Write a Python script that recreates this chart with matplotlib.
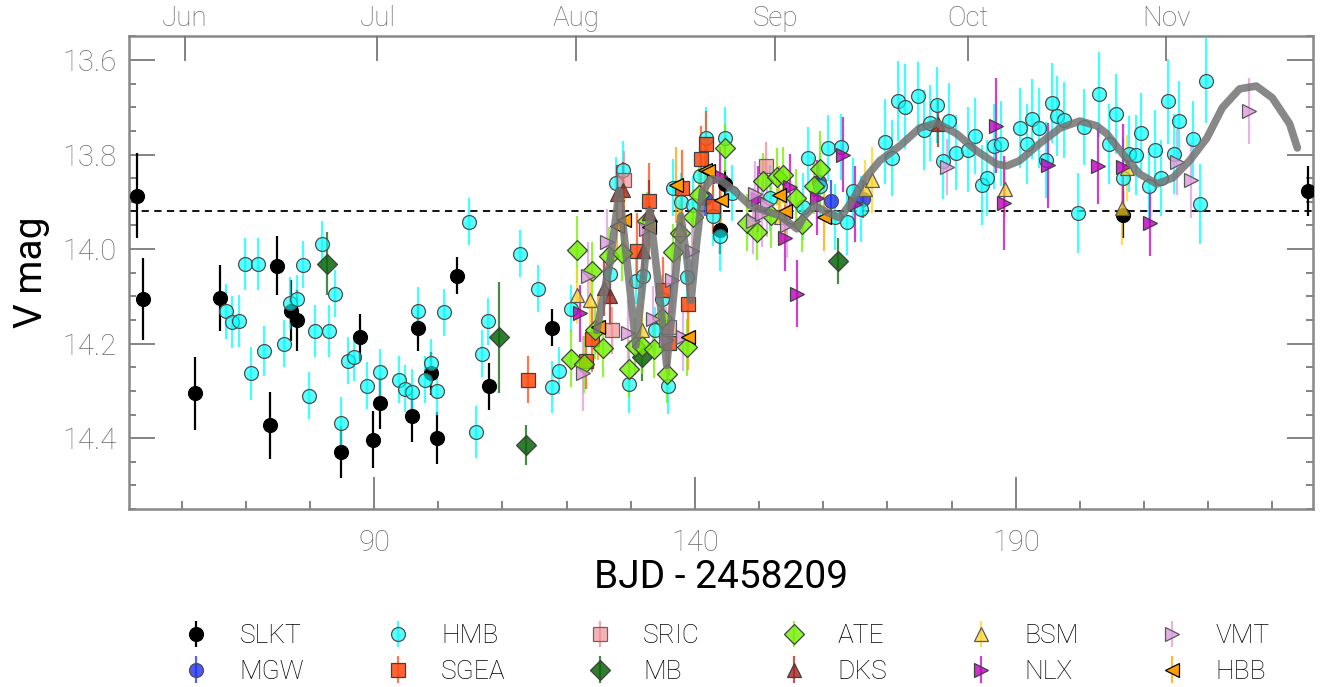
import matplotlib
matplotlib.use("Agg")
import matplotlib.pyplot as plt
from matplotlib.colors import to_rgba

plt.rcParams['font.family'] = ['Roboto', 'Liberation Sans', 'DejaVu Sans']
plt.rcParams['font.weight'] = 'light'

# ---- data (BJD - 2458209, V mag, error) ----
slkt_x = [53.1, 53.9, 62.0, 65.9, 73.8, 74.9, 77.0, 77.9, 84.9, 87.8, 89.8, 90.9,
          95.9, 96.9, 98.9, 99.8, 102.9, 107.9, 117.7, 143.9, 144.7, 206.7, 235.6]
slkt_y = [13.887, 14.105, 14.305, 14.103, 14.373, 14.035, 14.130, 14.151, 14.430, 14.187,
          14.403, 14.325, 14.354, 14.166, 14.263, 14.400, 14.056, 14.290, 14.166, 13.960,
          13.862, 13.927, 13.877]
slkt_e = [0.09, 0.087, 0.077, 0.07, 0.071, 0.063, 0.065, 0.065, 0.055, 0.05, 0.06, 0.055,
          0.055, 0.05, 0.045, 0.055, 0.04, 0.05, 0.04, 0.05, 0.03, 0.05, 0.053]

mgw_x = [141.6, 159.3, 161.2, 166.2]
mgw_y = [13.891, 13.858, 13.898, 13.894]
mgw_e = [0.04, 0.04, 0.045, 0.04]

hmb_x = [66.9, 67.9, 69.0, 69.9, 70.8, 71.9, 72.9, 76.0, 76.9, 78.0, 78.9, 79.9, 80.8, 81.9,
         83.0, 83.9, 84.9, 86.0, 86.9, 88.9, 90.9, 93.9, 94.8, 95.9, 96.9, 97.9, 98.9, 99.8,
         100.9, 104.8, 105.9, 106.8, 107.8, 112.7, 115.5, 117.7, 118.8, 120.7, 126.8, 127.7,
         128.8, 129.7, 130.8, 131.9, 133.8, 134.9, 135.8, 136.6, 137.8, 138.8, 139.7, 140.8,
         141.7, 142.8, 143.9, 144.7, 145.8, 151.7, 156.8, 157.6, 159.5, 160.7, 161.8, 162.7,
         163.7, 164.6, 165.9, 169.6, 170.7, 171.6, 172.7, 174.7, 175.7, 176.6, 177.7, 178.6,
         179.6, 180.7, 182.5, 183.6, 184.7, 185.6, 186.6, 187.7, 190.6, 191.7, 192.6, 193.6,
         194.7, 195.6, 196.5, 197.6, 199.7, 200.6, 203.0, 204.6, 205.7, 206.7, 207.6, 208.7,
         209.6, 210.7, 211.7, 212.6, 213.7, 214.6, 215.5, 217.6, 218.7, 219.6]
hmb_y = [14.132, 14.155, 14.153, 14.031, 14.263, 14.031, 14.215, 14.200, 14.113, 14.105,
         14.033, 14.310, 14.174, 13.989, 14.174, 14.094, 14.367, 14.236, 14.229, 14.289,
         14.261, 14.276, 14.295, 14.303, 14.130, 14.276, 14.240, 14.301, 14.134, 13.942,
         14.386, 14.221, 14.153, 14.010, 14.084, 14.291, 14.257, 14.126, 14.052, 13.860,
         13.832, 14.286, 14.067, 14.056, 14.172, 14.105, 14.289, 13.870, 13.900, 14.060,
         13.906, 13.845, 13.765, 13.929, 13.972, 13.765, 13.881, 13.891, 13.910, 13.807,
         13.866, 13.786, 13.932, 13.784, 13.942, 13.877, 13.915, 13.773, 13.807, 13.687,
         13.699, 13.676, 13.748, 13.733, 13.695, 13.813, 13.729, 13.796, 13.790, 13.761,
         13.864, 13.849, 13.782, 13.777, 13.744, 13.777, 13.725, 13.744, 13.811, 13.691,
         13.718, 13.727, 13.923, 13.742, 13.672, 13.777, 13.714, 13.849, 13.799, 13.801,
         13.754, 13.866, 13.790, 13.849, 13.687, 13.799, 13.729, 13.767, 13.904, 13.644]
hmb_e = [0.058, 0.055, 0.055, 0.055, 0.056, 0.055, 0.053, 0.05, 0.055, 0.05,
         0.05, 0.049, 0.055, 0.049, 0.055, 0.05, 0.055, 0.05, 0.05, 0.05,
         0.05, 0.05, 0.05, 0.05, 0.05, 0.05, 0.05, 0.05, 0.05, 0.05,
         0.055, 0.05, 0.05, 0.05, 0.05, 0.055, 0.05, 0.05, 0.05, 0.055,
         0.06, 0.06, 0.05, 0.05, 0.05, 0.05, 0.06, 0.06, 0.06, 0.06,
         0.06, 0.06, 0.065, 0.065, 0.075, 0.065, 0.06, 0.07, 0.07, 0.065,
         0.07, 0.07, 0.07, 0.07, 0.07, 0.07, 0.07, 0.09, 0.08, 0.085,
         0.09, 0.072, 0.085, 0.08, 0.08, 0.08, 0.08, 0.08, 0.09, 0.08,
         0.085, 0.08, 0.09, 0.09, 0.085, 0.085, 0.085, 0.085, 0.08, 0.085,
         0.085, 0.08, 0.085, 0.08, 0.09, 0.085, 0.085, 0.085, 0.08, 0.085,
         0.085, 0.08, 0.085, 0.08, 0.09, 0.085, 0.085, 0.08, 0.085, 0.09]

sgea_x = [114.0, 123.0, 124.0, 131.0, 132.8, 135.0, 136.0, 138.0, 138.9, 140.9, 141.7, 142.8]
sgea_y = [14.276, 14.236, 14.191, 14.003, 13.898, 14.086, 14.198, 13.870, 14.117, 13.809,
          13.777, 13.908]
sgea_e = [0.05, 0.06, 0.07, 0.08, 0.08, 0.07, 0.07, 0.08, 0.07, 0.07, 0.07, 0.06]

sric_x = [127.1, 128.9, 136.0, 151.1]
sric_y = [14.172, 13.853, 14.164, 13.824]
sric_e = [0.05, 0.06, 0.06, 0.05]

mb_x = [82.7, 109.5, 113.7, 131.7, 162.3]
mb_y = [14.031, 14.187, 14.415, 14.229, 14.025]
mb_e = [0.067, 0.118, 0.042, 0.05, 0.048]

ate_x = [120.7, 121.6, 122.7, 124.0, 124.4, 125.7, 126.6, 128.6, 129.7, 130.7, 131.7, 132.5,
         133.6, 134.9, 135.6, 136.6, 137.7, 138.8, 139.7, 140.6, 144.7, 148.1, 149.7, 150.6,
         151.8, 152.8, 153.7, 155.7, 156.7, 158.5, 159.5]
ate_y = [14.232, 14.001, 14.244, 14.046, 14.172, 14.210, 14.014, 14.008, 14.253, 14.206,
         14.204, 13.940, 14.212, 14.145, 14.265, 14.006, 13.965, 14.208, 13.932, 13.885,
         13.786, 13.944, 13.963, 13.856, 13.927, 13.847, 13.843, 13.891, 13.946, 13.866,
         13.830]
ate_e = [0.06, 0.07, 0.06, 0.06, 0.06, 0.06, 0.06, 0.06, 0.06, 0.06, 0.06, 0.06,
         0.06, 0.06, 0.06, 0.06, 0.06, 0.06, 0.06, 0.06, 0.05, 0.06, 0.06, 0.06,
         0.07, 0.06, 0.06, 0.06, 0.06, 0.06, 0.08]

dks_x = [125.8, 126.8, 127.9, 128.8, 131.9, 132.8, 177.9]
dks_y = [14.082, 14.100, 13.883, 13.875, 14.003, 13.923, 13.735]
dks_e = [0.06, 0.06, 0.06, 0.06, 0.07, 0.07, 0.05]

bsm_x = [121.6, 123.6, 131.7, 137.5, 153.4, 166.5, 167.6, 188.4, 206.5, 207.3]
bsm_y = [14.098, 14.107, 14.172, 13.957, 13.933, 13.872, 13.853, 13.872, 13.912, 13.828]
bsm_e = [0.06, 0.06, 0.06, 0.06, 0.06, 0.06, 0.07, 0.06, 0.08, 0.07]

nlx_x = [122.1, 143.9, 149.8, 154.0, 154.8, 155.9, 159.0, 163.1, 164.9, 187.0, 188.1, 195.0,
         202.9, 206.8, 211.0]
nlx_y = [14.136, 13.845, 13.894, 13.977, 13.868, 14.094, 13.891, 13.800, 13.904, 13.739,
         13.902, 13.823, 13.824, 13.826, 13.944]
nlx_e = [0.06, 0.06, 0.07, 0.07, 0.07, 0.07, 0.08, 0.08, 0.08, 0.1, 0.1, 0.09,
         0.08, 0.09, 0.07]

vmt_x = [122.6, 123.3, 126.3, 129.6, 132.4, 133.5, 135.5, 136.4, 138.1, 139.5, 149.0, 149.3,
         150.4, 151.2, 154.3, 179.3, 215.1, 217.3, 226.3]
vmt_y = [14.263, 14.056, 13.986, 14.177, 13.957, 14.147, 14.193, 14.065, 14.187, 14.003,
         13.940, 13.883, 13.925, 13.904, 13.948, 13.826, 13.816, 13.854, 13.708]
vmt_e = [0.08, 0.07, 0.07, 0.07, 0.07, 0.07, 0.07, 0.07, 0.07, 0.07, 0.07, 0.07,
         0.07, 0.07, 0.07, 0.06, 0.07, 0.08, 0.07]

hbb_x = [124.9, 127.9, 128.9, 132.8, 137.0, 138.9, 141.6, 142.0, 144.0, 153.1, 154.0, 160.1]
hbb_y = [14.164, 13.951, 13.938, 13.953, 13.864, 14.185, 13.833, 13.834, 13.896, 13.885,
         13.919, 13.933]
hbb_e = [0.07, 0.07, 0.07, 0.07, 0.08, 0.07, 0.07, 0.07, 0.06, 0.06, 0.06, 0.07]

# model curve
model_x = [124.7, 126.8, 128.2, 129.4, 130.8, 131.9, 133.0, 134.4, 135.6, 136.9, 137.8, 138.8,
           139.4, 140.3, 141.2, 142.6, 144.2, 146.2, 148.6, 150.9, 153.2, 155.9, 157.1, 158.7,
           160.7, 162.6, 164.5, 166.5, 168.8, 171.9, 175.0, 177.7, 180.8, 183.9, 187.0, 188.6,
           190.6, 193.7, 196.9, 200.0, 202.6, 204.2, 206.7, 209.3, 212.0, 214.5, 217.1, 219.8,
           222.2, 224.9, 227.5, 230.0, 232.7, 233.9]
model_y = [14.172, 14.025, 13.877, 14.025, 14.204, 14.067, 13.919, 14.088, 14.246, 14.067,
           13.930, 14.025, 14.109, 13.982, 13.877, 13.851, 13.856, 13.877, 13.908, 13.919,
           13.929, 13.957, 13.929, 13.908, 13.923, 13.934, 13.898, 13.851, 13.813, 13.782,
           13.744, 13.733, 13.756, 13.792, 13.820, 13.824, 13.813, 13.777, 13.744, 13.729,
           13.739, 13.756, 13.799, 13.841, 13.862, 13.849, 13.813, 13.765, 13.701, 13.661,
           13.655, 13.680, 13.735, 13.786]

mean_mag = 13.92
month_pos = [60.5, 90.5, 121.5, 152.5, 182.5, 213.5]
month_lab = ['Jun', 'Jul', 'Aug', 'Sep', 'Oct', 'Nov']

series = [
    ('SLKT', slkt_x, slkt_y, slkt_e, 'o', 'black', 1.0, 'black'),
    ('MGW', mgw_x, mgw_y, mgw_e, 'o', '#1f2ff0', 0.8, '0.3'),
    ('HMB', hmb_x, hmb_y, hmb_e, 'o', '#00ffff', 0.65, '0.3'),
    ('SGEA', sgea_x, sgea_y, sgea_e, 's', '#ff4a10', 0.85, '0.25'),
    ('SRIC', sric_x, sric_y, sric_e, 's', '#f08a8e', 0.65, '0.4'),
    ('MB', mb_x, mb_y, mb_e, 'D', '#0b650b', 0.85, '0.25'),
    ('ATE', ate_x, ate_y, ate_e, 'D', '#72f000', 0.8, '0.25'),
    ('DKS', dks_x, dks_y, dks_e, '^', '#a3221c', 0.8, '0.25'),
    ('BSM', bsm_x, bsm_y, bsm_e, '^', '#ffd21f', 0.7, '0.35'),
    ('NLX', nlx_x, nlx_y, nlx_e, '>', '#c000c0', 0.8, '0.25'),
    ('VMT', vmt_x, vmt_y, vmt_e, '>', '#dd9add', 0.8, '0.35'),
    ('HBB', hbb_x, hbb_y, hbb_e, '<', '#ffa000', 1.0, 'black'),
]

fig = plt.figure(figsize=(13.24, 6.87), dpi=100)
ax = fig.add_axes([0.0975, 0.259, 0.894, 0.688])

gray = '#6e6e6e'
for name, x, y, e, mk, c, a, ec in series:
    ax.errorbar(x, y, yerr=e, fmt=mk, ms=10, mfc=to_rgba(c, a), mec=ec, mew=0.9,
                ecolor=to_rgba(c, 0.75 if c != 'black' else 1.0), elinewidth=1.6,
                capsize=0, label=name, zorder=3)

ax.plot(model_x, model_y, color='0.45', lw=5.5, alpha=0.85, solid_capstyle='round',
        solid_joinstyle='round', zorder=4)
ax.axhline(mean_mag, color='black', ls=(0, (4, 3)), lw=1.3, zorder=2)

ax.set_xlim(51.8, 236.3)
ax.set_ylim(14.55, 13.55)
ax.set_xticks([90, 140, 190])
ax.set_xticks(range(60, 237, 10), minor=True)
ax.set_yticks([13.6, 13.8, 14.0, 14.2, 14.4])
ax.set_yticks([13.55 + 0.05 * i for i in range(21)], minor=True)
ax.tick_params(which='both', direction='in', colors=gray, labelcolor=gray, width=1.2,
               top=False, right=True, labelsize=21)
ax.tick_params(axis='y', which='major', length=19, pad=9)
ax.tick_params(axis='y', which='minor', length=5)
ax.tick_params(axis='x', which='major', length=23, pad=14)
ax.tick_params(axis='x', which='minor', length=6)
for sp in ax.spines.values():
    sp.set_color('#888888')
    sp.set_linewidth(1.8)

ax.set_xlabel('BJD - 2458209', fontsize=28, labelpad=2)
ax.set_ylabel('V mag', fontsize=28, labelpad=9)

ax2 = ax.twiny()
ax2.set_xlim(ax.get_xlim())
ax2.set_xticks(month_pos)
ax2.set_xticklabels(month_lab)
ax2.tick_params(direction='in', length=18, width=1.2, colors=gray, labelcolor=gray,
                labelsize=20, pad=3)
for sp in ax2.spines.values():
    sp.set_visible(False)

handles, labels = ax.get_legend_handles_labels()
fig.legend(handles, labels, loc='lower center', bbox_to_anchor=(0.546, -0.03), ncol=6,
           frameon=False, fontsize=19, handletextpad=0.9, columnspacing=2.8,
           labelspacing=0.45, handlelength=1.5)

fig.savefig('out.png', dpi=100)
